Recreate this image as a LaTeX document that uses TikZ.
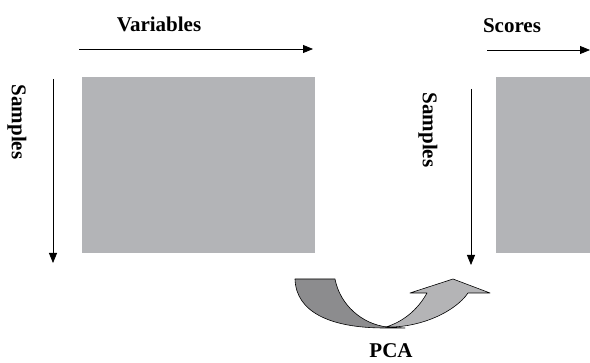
\documentclass[tikz,border=0pt]{standalone}
\usepackage{fontspec}
\setmainfont{Liberation Serif}
\usetikzlibrary{arrows.meta}
\definecolor{boxgray}{RGB}{179,180,183}
\definecolor{darkarrow}{RGB}{140,140,142}
\definecolor{lightarrow}{RGB}{180,180,182}
\begin{document}
\begin{tikzpicture}[x=1pt,y=-1pt,
  lbl/.style={font=\fontsize{21}{25}\selectfont\bfseries, inner sep=0pt},
  matrixbox/.style={fill=boxgray, draw=none, inner sep=0pt},
  axis/.style={line width=0.8pt, -{Triangle[length=10pt,width=8pt]}},
  pcapart/.style={draw=black, line width=0.6pt, line join=round}]
\useasboundingbox (0,0) rectangle (590,363);
% data matrix
\node[matrixbox, minimum width=233pt, minimum height=176pt] (X) at (198.5,165) {};
% scores matrix
\node[matrixbox, minimum width=94pt, minimum height=176pt] (T) at (543,165) {};
% labels
\node[lbl, anchor=base] (var) at (159,31.5) {Variables};
\node[lbl, anchor=base] (sco) at (512,33) {Scores};
\node[lbl, rotate=-90] (s1) at (17,122) {Samples};
\node[lbl, rotate=-90] (s2) at (428,130) {Samples};
\node[lbl, anchor=base] (pca) at (391,358) {PCA};
% axis arrows
\coordinate (v1) at (79,49); \coordinate (v2) at (313,49);
\coordinate (c1) at (487,50); \coordinate (c2) at (590,50);
\coordinate (a1) at (53,79); \coordinate (a2) at (53,263);
\coordinate (b1) at (471,89); \coordinate (b2) at (471,265);
\draw[axis] (v1) -- (v2);
\draw[axis] (c1) -- (c2);
\draw[axis] (a1) -- (a2);
\draw[axis] (b1) -- (b2);
% PCA curved arrow
\filldraw[pcapart, fill=darkarrow] (295,279) -- (335,279)
  .. controls (340,305) and (362,324) .. (387,327)
  -- (405,328) -- (385,328)
  .. controls (330,328) and (296,312) .. (295,279) -- cycle;
\filldraw[pcapart, fill=lightarrow] (386,327)
  .. controls (420,328) and (455,312) .. (468,293)
  -- (490,293) -- (453,279) -- (410,293) -- (427,293)
  .. controls (417,311) and (402,322) .. (386,327) -- cycle;
\end{tikzpicture}
\end{document}
